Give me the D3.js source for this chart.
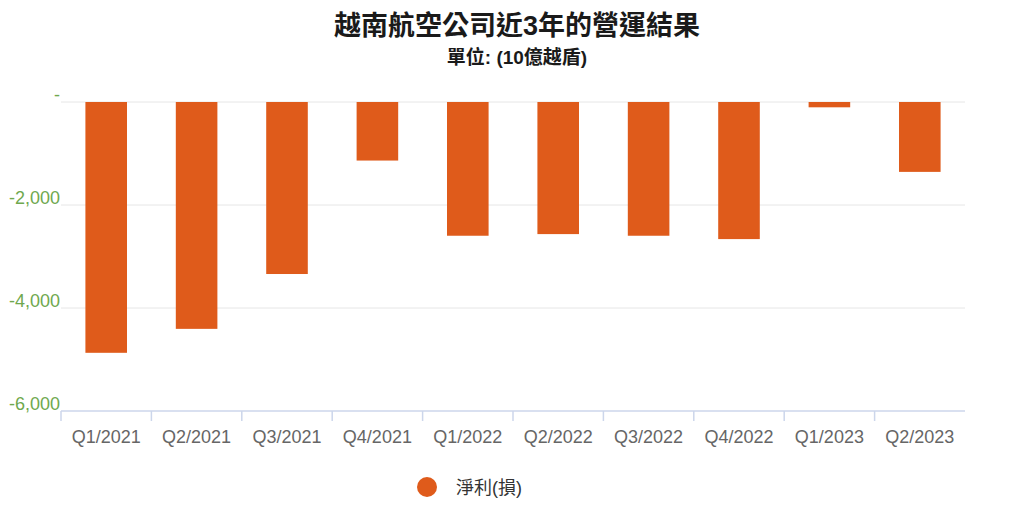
<!DOCTYPE html>
<html><head><meta charset="utf-8">
<script src="https://cdn.jsdelivr.net/npm/d3@7"></script>
<style>
html,body{margin:0;padding:0;background:#fff;}
svg{display:block;}
</style></head>
<body>
<svg id="chart" width="1024" height="511"></svg>
<script>
const categories = ["Q1/2021","Q2/2021","Q3/2021","Q4/2021","Q1/2022","Q2/2022","Q3/2022","Q4/2022","Q1/2023","Q2/2023"];
const netProfit = [-4870,-4405,-3340,-1137,-2597,-2565,-2597,-2662,-103,-1357];
const yTicks = [0,-2000,-4000,-6000];
const title = "越南航空公司近3年的營運結果";
const subtitle = "單位: (10億越盾)";
const seriesName = "淨利(損)";

(function(){
const svg = d3.select("#chart");
const cjk = "'Liberation Sans','Noto Sans CJK TC',Arial,sans-serif";
const pL = 61, pR = 965, pT = 102, pB = 411;

const x = d3.scaleBand().domain(categories).range([pL, pR]).paddingInner(0.54).paddingOuter(0.27);
const xb = d3.scaleBand().domain(categories).range([pL, pR]);
const y = d3.scaleLinear().domain([-6000, 0]).range([pB, pT]);

// grid
svg.append("g").selectAll("line").data(yTicks.filter(d=>d!==-6000)).join("line")
  .attr("x1", pL).attr("x2", pR)
  .attr("y1", d=>y(d)).attr("y2", d=>y(d))
  .attr("stroke", "#e6e6e6").attr("stroke-width", 1);

// y labels
const fmt = d => d === 0 ? "-" : d3.format(",")(d).replace("−","-");
svg.append("g").selectAll("text").data(yTicks).join("text")
  .attr("x", pL - 1).attr("y", d => y(d) - 1)
  .attr("text-anchor", "end")
  .attr("font-family", "'Liberation Sans',Arial,sans-serif")
  .attr("font-size", 18).attr("fill", "#6fa84e")
  .text(fmt);

// bars
svg.append("g").selectAll("rect").data(netProfit).join("rect")
  .attr("x", (d,i)=>x(categories[i]))
  .attr("width", x.bandwidth())
  .attr("y", y(0))
  .attr("height", d => y(d) - y(0))
  .attr("fill", "#df5b1b");

// x axis
const gx = svg.append("g").attr("transform", `translate(0,${pB})`);
gx.append("line").attr("x1", pL).attr("x2", pR).attr("y1",0).attr("y2",0)
  .attr("stroke", "#ccd6eb").attr("stroke-width", 1.5);
gx.selectAll("line.tick").data(categories).join("line").attr("class","tick")
  .attr("x1", d=>xb(d)).attr("x2", d=>xb(d)).attr("y1",0).attr("y2",10)
  .attr("stroke", "#ccd6eb").attr("stroke-width", 1.5);
gx.selectAll("text").data(categories).join("text")
  .attr("x", d=>xb(d)+xb.bandwidth()/2).attr("y", 32)
  .attr("text-anchor","middle")
  .attr("font-family", "'Liberation Sans',Arial,sans-serif")
  .attr("font-size", 18).attr("fill", "#666")
  .text(d=>d);

// title
svg.append("text").attr("x", 517).attr("y", 35).attr("text-anchor","middle")
  .attr("font-family", cjk).attr("font-weight","bold").attr("font-size", 27).attr("fill","#1a1a1a")
  .text(title);
svg.append("text").attr("x", 517).attr("y", 64).attr("text-anchor","middle")
  .attr("font-family", cjk).attr("font-weight","bold").attr("font-size", 19).attr("fill","#1a1a1a")
  .text(subtitle);

// legend
const lg = svg.append("g");
lg.append("circle").attr("cx", 427).attr("cy", 487).attr("r", 10).attr("fill", "#df5b1b");
lg.append("text").attr("x", 456).attr("y", 494)
  .attr("font-family", cjk).attr("font-size", 18).attr("fill","#333")
  .text(seriesName);
})();
</script>
</body></html>
